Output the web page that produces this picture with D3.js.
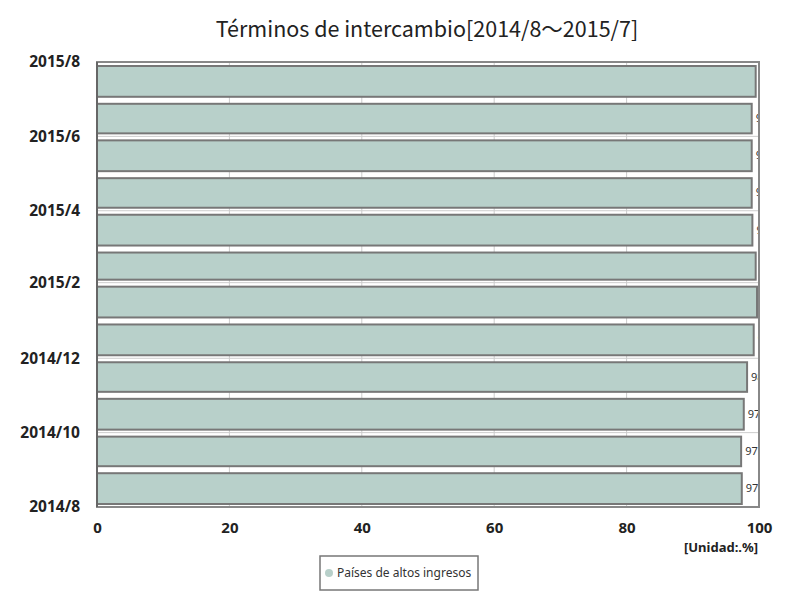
<!DOCTYPE html>
<html>
<head>
<meta charset="utf-8">
<script src="https://cdn.jsdelivr.net/npm/d3@7"></script>
<style>
  body { margin: 0; background: #fff; }
  text { font-family: "Noto Sans", "Open Sans", sans-serif; }
</style>
</head>
<body>
<svg id="chart" width="800" height="600"></svg>
<script>
// months shown as bars (bottom to top)
var months = ["2014/8","2014/9","2014/10","2014/11","2014/12","2015/1",
              "2015/2","2015/3","2015/4","2015/5","2015/6","2015/7"];
// terms of trade, high income countries (%)
var values = [97.4, 97.3, 97.7, 98.2, 99.2, 99.7, 99.5, 99.0, 98.9, 98.9, 98.9, 99.5];
var xTicks = [0, 20, 40, 60, 80, 100];
var yTickLabels = ["2014/8","2014/10","2014/12","2015/2","2015/4","2015/6","2015/8"];
var seriesName = "Países de altos ingresos";

var svg = d3.select("#chart");
var parse = d3.timeParse("%Y/%m");
var fmt = d3.timeFormat("%Y/%-m");

var mLeft = 97, mRight = 759, mTop = 62, mBottom = 507;

var x = d3.scaleLinear().domain([0, 100]).range([mLeft, mRight]);
var y = d3.scaleTime()
    .domain([parse("2014/8"), parse("2015/8")])
    .range([mBottom, mTop]);

svg.append("text")
    .attr("x", 427).attr("y", 37)
    .attr("text-anchor", "middle")
    .style("font-size", "21.5px").style("fill", "#222")
    .style("font-family", "'Noto Sans CJK JP', 'Noto Sans', sans-serif")
    .text("Términos de intercambio[2014/8～2015/7]");

// grid
var yTicks = yTickLabels.map(parse);
svg.append("g").selectAll("line").data(xTicks.slice(1, -1)).join("line")
    .attr("x1", d => x(d)).attr("x2", d => x(d))
    .attr("y1", mTop).attr("y2", mBottom)
    .style("stroke", "#ccc");
svg.append("g").selectAll("line").data(yTicks).join("line")
    .attr("x1", mLeft).attr("x2", mRight)
    .attr("y1", d => y(d)).attr("y2", d => y(d))
    .style("stroke", "#ccc");

svg.append("defs").append("clipPath").attr("id", "clip")
    .append("rect").attr("x", mLeft).attr("y", mTop)
    .attr("width", mRight - mLeft).attr("height", mBottom - mTop);

var plot = svg.append("g").attr("clip-path", "url(#clip)");

plot.selectAll("rect.bar").data(months).join("rect")
    .attr("class", "bar")
    .attr("x", x(0))
    .attr("y", d => y(d3.timeMonth.offset(parse(d), 1)) + 4)
    .attr("height", d => y(parse(d)) - y(d3.timeMonth.offset(parse(d), 1)) - 7)
    .attr("width", (d, i) => x(values[i]) - x(0))
    .style("fill", "#b8d0ca")
    .style("stroke", "#777")
    .style("stroke-width", 2);

plot.selectAll("text.val").data(months).join("text")
    .attr("class", "val")
    .attr("x", (d, i) => x(values[i]) + 4)
    .attr("y", d => (y(parse(d)) + y(d3.timeMonth.offset(parse(d), 1))) / 2 + 4)
    .style("font-size", "11px").style("fill", "#333")
    .text((d, i) => values[i].toFixed(1));

// frame
svg.append("rect")
    .attr("x", mLeft).attr("y", mTop)
    .attr("width", mRight - mLeft).attr("height", mBottom - mTop)
    .style("fill", "none").style("stroke", "#888").style("stroke-width", 2);
svg.append("line")
    .attr("x1", mLeft).attr("x2", mLeft).attr("y1", mTop).attr("y2", mBottom)
    .style("stroke", "#666").style("stroke-width", 2);

// axes
var xAxis = svg.append("g").attr("transform", "translate(0," + mBottom + ")")
    .call(d3.axisBottom(x).tickValues(xTicks).tickSize(0).tickPadding(15));
xAxis.select(".domain").remove();
xAxis.selectAll("text").style("font-size", "15px").style("font-weight", "bold").style("fill", "#222");

var yAxis = svg.append("g").attr("transform", "translate(" + mLeft + ",0)")
    .call(d3.axisLeft(y).tickValues(yTicks).tickFormat(fmt).tickSize(0).tickPadding(17));
yAxis.select(".domain").remove();
yAxis.selectAll("text").style("font-size", "15.5px").style("font-weight", "bold").style("fill", "#222");

svg.append("text")
    .attr("x", 758).attr("y", 552)
    .attr("text-anchor", "end")
    .style("font-size", "13px").style("font-weight", "bold").style("fill", "#222")
    .text("[Unidad:.%]");

// legend
var lg = svg.append("g").attr("transform", "translate(320,556)");
lg.append("rect").attr("width", 158).attr("height", 34)
    .style("fill", "#fff").style("stroke", "#777").style("stroke-width", 1.5);
lg.append("circle").attr("cx", 9).attr("cy", 17).attr("r", 4).style("fill", "#b8d0ca");
lg.append("text").attr("x", 17).attr("y", 21)
    .style("font-size", "12px").style("fill", "#333")
    .text(seriesName);
</script>
</body>
</html>
